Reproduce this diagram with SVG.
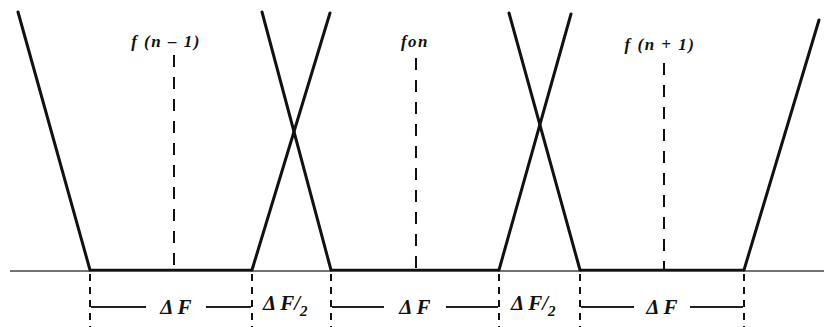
<svg xmlns="http://www.w3.org/2000/svg" width="824" height="327" viewBox="0 0 824 327">
<style>
.ln{stroke:#111;stroke-width:3;fill:none;stroke-linecap:round}
.base{stroke:#444;stroke-width:1.5;fill:none}
.bold{stroke:#111;stroke-width:2.5;fill:none}
.dash{stroke:#111;stroke-width:2;fill:none;stroke-dasharray:12 10}
.tick{stroke:#111;stroke-width:2;fill:none;stroke-dasharray:7 6}
.dim{stroke:#222;stroke-width:1.8;fill:none}
.lbl{font-family:"Liberation Serif",serif;font-style:italic;font-weight:bold;font-size:17px;letter-spacing:1.5px;fill:#111}
.big{font-family:"Liberation Serif",serif;font-style:italic;font-weight:bold;font-size:21px;fill:#111}
.sub{font-size:15px}
</style>
<rect width="824" height="327" fill="#fff"/>
<g id="connectors">
<line class="base" x1="10" y1="271" x2="824" y2="271"/>
<line class="bold" x1="90" y1="270" x2="252" y2="270"/>
<line class="bold" x1="331" y1="270" x2="499" y2="270"/>
<line class="bold" x1="580" y1="270" x2="744" y2="270"/>
<line class="ln" x1="18" y1="12" x2="90" y2="270"/>
<line class="ln" x1="262" y1="12" x2="331" y2="270"/>
<line class="ln" x1="330" y1="13" x2="252" y2="270"/>
<line class="ln" x1="509" y1="13" x2="580" y2="270"/>
<line class="ln" x1="571" y1="14" x2="499" y2="270"/>
<line class="ln" x1="819" y1="20" x2="744" y2="270"/>
<line class="dash" x1="174" y1="55" x2="174" y2="270"/>
<line class="dash" x1="416" y1="58" x2="416" y2="270"/>
<line class="dash" x1="664" y1="63" x2="664" y2="270"/>
<line class="tick" x1="90" y1="274" x2="90" y2="327"/>
<line class="tick" x1="252" y1="274" x2="252" y2="327"/>
<line class="tick" x1="331" y1="274" x2="331" y2="327"/>
<line class="tick" x1="499" y1="274" x2="499" y2="327"/>
<line class="tick" x1="580" y1="274" x2="580" y2="327"/>
<line class="tick" x1="744" y1="274" x2="744" y2="327"/>
<line class="dim" x1="91" y1="307" x2="146" y2="307"/>
<line class="dim" x1="206" y1="307" x2="251" y2="307"/>
<line class="dim" x1="332" y1="307" x2="384" y2="307"/>
<line class="dim" x1="446" y1="307" x2="498" y2="307"/>
<line class="dim" x1="581" y1="307" x2="634" y2="307"/>
<line class="dim" x1="690" y1="307" x2="743" y2="307"/>
</g>
<g id="label-fn-1"><text class="lbl" x="166" y="47" text-anchor="middle">f (n – 1)</text></g>
<g id="label-fon"><text class="lbl" x="415" y="47" text-anchor="middle">fon</text></g>
<g id="label-fn+1"><text class="lbl" x="660" y="50" text-anchor="middle">f (n + 1)</text></g>
<g id="dF1"><text class="big" x="176" y="314" text-anchor="middle">Δ F</text></g>
<g id="dF2half"><text class="big" x="263" y="310">Δ F/<tspan class="sub" dy="6">2</tspan></text></g>
<g id="dF3"><text class="big" x="415" y="314" text-anchor="middle">Δ F</text></g>
<g id="dF4half"><text class="big" x="511" y="310">Δ F/<tspan class="sub" dy="6">2</tspan></text></g>
<g id="dF5"><text class="big" x="662" y="314" text-anchor="middle">Δ F</text></g>
</svg>
